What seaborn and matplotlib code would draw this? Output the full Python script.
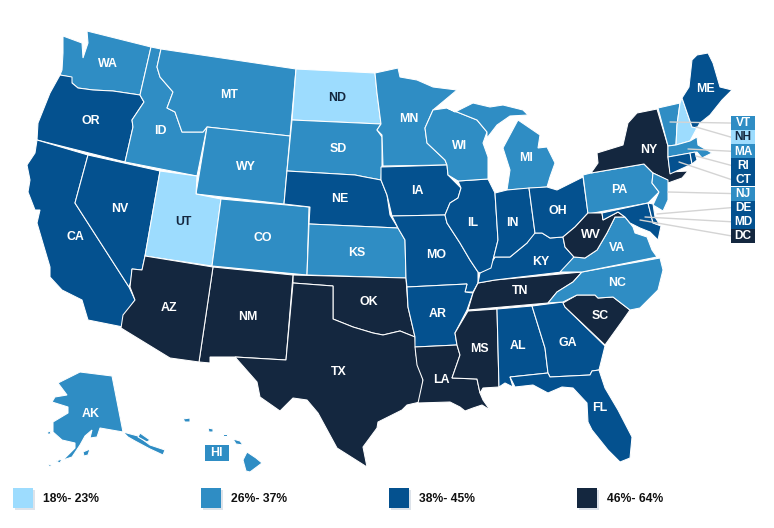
import matplotlib
matplotlib.use('Agg')
import matplotlib.pyplot as plt
from matplotlib.patches import Rectangle
import pandas as pd
import seaborn as sns

# Bins and the states in each
BIN_LABELS = ['18%- 23%', '26%- 37%', '38%- 45%', '46%- 64%']
BIN_COLORS = ['#9DDCFE', '#2F8DC4', '#04518F', '#14273F']
STATES_BIN0 = ['UT', 'ND', 'NH']
STATES_BIN1 = ['WA', 'MT', 'ID', 'WY', 'CO', 'SD', 'MN', 'WI', 'MI', 'KS', 'PA', 'VA', 'NC',
               'VT', 'MA', 'NJ', 'AK', 'HI']
STATES_BIN2 = ['OR', 'CA', 'NV', 'NE', 'IA', 'IL', 'IN', 'MO', 'AR', 'KY', 'OH', 'AL', 'GA',
               'FL', 'ME', 'RI', 'CT', 'DE', 'MD']
STATES_BIN3 = ['AZ', 'NM', 'OK', 'TX', 'LA', 'MS', 'TN', 'SC', 'WV', 'NY', 'DC']
BOXED_STATES = ['VT', 'NH', 'MA', 'RI', 'CT', 'NJ', 'DE', 'MD', 'DC']

# State outlines in pixel coordinates
OUTLINES = {
    'WA': [[(63,36),(82,43),(83,58),(88,43),(87,31),(151,47),(140,95),(113,91),(93,90),(78,88),(72,83),(70,77),(60,75),(62,70),(63,53)]],
    'OR': [[(60,75),(72,77),(72,83),(78,88),(93,90),(113,91),(140,95),(144,102),(132,120),(133,127),(125,162),(37,140),(38,123),(50,93)]],
    'CA': [[(37,140),(88,155),(75,203),(129,287),(135,300),(125,315),(123,327),(88,320),(82,300),(62,290),(50,277),(50,267),(42,240),(37,223),(40,210),(35,210),(28,192),(30,180),(27,165),(35,153)]],
    'NV': [[(88,155),(160,171),(145,256),(142,270),(132,269),(131,281),(129,287),(75,203)]],
    'ID': [[(151,47),(161,49),(157,67),(160,77),(173,92),(167,108),(175,112),(182,132),(203,132),(207,127),(197,176),(125,162),(133,127),(132,120),(144,102),(140,95)]],
    'MT': [[(161,49),(296,69),(290,136),(207,127),(203,132),(182,132),(175,112),(167,108),(173,92),(160,77),(157,67)]],
    'WY': [[(207,127),(290,136),(284,204),(196,194)]],
    'UT': [[(160,171),(197,176),(196,194),(221,199),(212,266),(145,256)]],
    'CO': [[(221,199),(309,207),(307,275),(212,266)]],
    'ND': [[(296,69),(375,73),(377,93),(381,124),(292,120)]],
    'SD': [[(292,120),(381,124),(377,130),(382,137),(382,165),(381,180),(365,177),(355,175),(287,171)]],
    'NE': [[(287,171),(355,175),(365,177),(381,180),(387,195),(390,215),(398,228),(309,224),(310,207),(284,204)]],
    'KS': [[(309,224),(398,228),(405,240),(406,278),(307,275)]],
    'OK': [[(293,275),(406,278),(408,307),(415,337),(400,331),(383,335),(373,333),(353,327),(333,319),(333,286),(293,283)]],
    'NM': [[(213,267),(293,275),(286,360),(235,357),(210,357),(210,363),(199,362)]],
    'AZ': [[(145,256),(213,267),(199,362),(170,358),(121,328),(123,315),(135,300),(130,287),(132,269),(142,270)]],
    'TX': [[(293,283),(333,286),(333,319),(353,327),(373,333),(383,335),(400,331),(415,337),(416,355),(423,380),(420,402),(407,405),(402,410),(378,422),(377,428),(363,447),(367,467),(337,448),(318,413),(307,400),(293,398),(280,411),(260,397),(257,382),(235,357),(286,360)]],
    'MN': [[(375,73),(398,68),(400,77),(417,80),(433,87),(457,90),(433,110),(425,128),(427,143),(445,160),(447,165),(383,166),(382,135),(377,130),(381,124),(377,93)]],
    'IA': [[(381,167),(447,165),(448,175),(461,188),(458,198),(450,203),(445,215),(392,216),(387,195),(381,180)]],
    'MO': [[(392,216),(445,215),(447,223),(460,243),(470,260),(478,272),(478,283),(473,292),(465,292),(467,284),(407,287),(406,278),(405,240),(398,228)]],
    'AR': [[(407,287),(467,284),(465,292),(473,293),(467,310),(455,333),(457,345),(415,347),(415,337),(408,307)]],
    'LA': [[(415,347),(457,345),(460,355),(452,378),(477,379),(480,393),(483,400),(490,410),(482,405),(473,408),(465,411),(460,407),(450,402),(418,403),(423,380),(417,365)]],
    'MS': [[(468,311),(497,309),(499,387),(483,388),(480,393),(477,379),(452,378),(460,355),(457,345),(455,333)]],
    'AL': [[(497,309),(532,306),(545,348),(548,373),(510,377),(513,387),(505,383),(499,387)]],
    'GA': [[(532,306),(563,302),(565,307),(605,346),(599,370),(592,371),(590,375),(550,377),(548,373),(545,348)]],
    'SC': [[(563,303),(577,295),(595,295),(598,298),(613,297),(630,310),(623,320),(605,345),(565,307)]],
    'FL': [[(510,377),(548,373),(550,377),(590,375),(592,371),(599,370),(605,388),(618,410),(632,437),(630,458),(620,462),(608,450),(592,430),(588,422),(587,403),(573,388),(562,387),(548,393),(533,385),(515,387)]],
    'TN': [[(478,283),(495,280),(582,272),(573,282),(557,292),(548,303),(468,310),(473,293)]],
    'NC': [[(582,272),(660,258),(663,270),(658,290),(640,308),(630,310),(613,297),(598,298),(595,295),(577,295),(563,302),(548,303),(557,292),(573,282)]],
    'KY': [[(478,283),(480,273),(490,265),(495,257),(510,257),(527,243),(533,233),(542,233),(550,238),(563,237),(565,247),(574,257),(562,272),(495,280)]],
    'IL': [[(458,181),(488,179),(495,193),(498,240),(493,260),(491,268),(480,273),(478,272),(470,260),(460,243),(447,223),(445,215),(450,203),(458,198),(461,188)]],
    'WI': [[(433,110),(447,108),(477,120),(487,132),(483,143),(488,157),(488,179),(458,181),(448,175),(447,165),(445,160),(427,143),(425,128)]],
    'MI': [[(447,108),(455,112),(473,103),(490,107),(503,105),(523,110),(528,115),(510,116),(497,125),(487,138),(487,132),(477,120)],
           [(518,120),(540,135),(538,148),(547,147),(555,163),(550,177),(547,187),(507,190),(510,170),(503,148)]],
    'IN': [[(495,193),(507,190),(529,188),(535,233),(527,243),(510,257),(495,257),(493,260),(498,240)]],
    'OH': [[(529,188),(547,187),(557,190),(583,177),(588,213),(575,227),(563,237),(550,238),(542,233),(535,233)]],
    'PA': [[(583,175),(591,173),(644,164),(653,173),(652,183),(659,192),(648,203),(588,214)]],
    'NY': [[(591,173),(598,163),(597,153),(623,145),(628,123),(637,113),(657,109),(668,146),(668,157),(670,172),(688,171),(682,178),(668,183),(667,180),(653,173),(644,164)]],
    'VT': [[(658,108),(680,103),(677,125),(676,145),(668,146)]],
    'NH': [[(680,103),(682,98),(692,127),(697,128),(690,141),(676,145),(677,125)]],
    'ME': [[(682,98),(689,87),(692,60),(697,55),(708,53),(713,63),(720,87),(732,90),(722,100),(710,115),(700,123),(697,128),(692,127)]],
    'MA': [[(668,146),(676,145),(690,141),(697,137),(698,145),(712,153),(702,158),(697,152),(668,157)]],
    'CT': [[(668,157),(690,153),(692,164),(670,174)]],
    'RI': [[(690,153),(695,152),(697,160),(692,164)]],
    'NJ': [[(653,173),(668,180),(668,200),(663,211),(653,205),(659,192),(652,183)]],
    'VA': [[(560,272),(574,257),(585,258),(597,250),(607,233),(615,217),(625,217),(633,227),(635,233),(647,237),(652,250),(657,257),(582,272)]],
    'WV': [[(565,247),(563,237),(575,227),(588,213),(602,213),(603,220),(618,212),(625,217),(615,217),(607,233),(597,250),(585,258),(574,257)]],
    'MD': [[(602,213),(648,203),(653,223),(661,226),(658,240),(650,232),(640,228),(630,223),(625,217),(618,212),(603,220)]],
    'DE': [[(648,203),(653,204),(655,217),(660,225),(653,223)]],
    'AK': [[(58,383),(80,372),(112,376),(123,432),(100,428),(97,437),(90,438),(92,430),(85,436),(80,445),(72,457),(63,460),(75,448),(75,443),(62,440),(53,432),(53,422),(68,413),(68,407),(52,402),(55,397),(67,395)],
           [(123,432),(138,436),(150,445),(165,450),(163,455),(150,449),(135,441),(128,437)],
           [(140,433),(150,440),(147,442),(138,437)],
           [(83,452),(90,449),(88,455),(84,456)],
           [(48,432),(50,431),(51,434),(47,434)],
           [(56,461),(62,459),(60,463)],
           [(48,465),(52,464),(50,467)]],
    'HI': [[(183,419),(190,418),(190,422),(185,422)],
           [(208,428),(213,429),(213,432),(209,432)],
           [(223,434),(227,434),(227,436),(223,436)],
           [(233,439),(240,441),(243,445),(236,444)],
           [(247,452),(256,458),(262,463),(250,472),(246,471),(243,460)]],
}

LABEL_POS = {
    'WA': (108,64), 'MT': (229,95), 'OR': (91,121), 'ID': (160,131), 'WY': (246,167),
    'NV': (120,209), 'UT': (183,222), 'CO': (263,238), 'CA': (75,237), 'ND': (337,98),
    'MN': (409,119), 'SD': (338,149), 'WI': (460,146), 'NE': (340,199), 'IA': (417,191),
    'IL': (473,223), 'IN': (512,223), 'KS': (357,253), 'MO': (436,255), 'OK': (369,302),
    'AR': (438,314), 'TN': (520,291), 'AZ': (169,308), 'NM': (248,317), 'TX': (339,372),
    'MS': (479,349), 'LA': (441,380), 'AL': (518,346), 'GA': (568,343), 'SC': (600,316),
    'FL': (600,408), 'NC': (617,283), 'VA': (617,248), 'WV': (591,235), 'KY': (541,262),
    'OH': (558,211), 'MI': (526,158), 'PA': (619,190), 'NY': (649,150), 'ME': (705,89),
    'AK': (91,414),
}
# Where each leader line starts inside its state
LEADER_START = {
    'VT': (670,122), 'NH': (696,127), 'MA': (688,149), 'RI': (696,156), 'CT': (679,162),
    'NJ': (668,192), 'DE': (657,214), 'MD': (645,217), 'DC': (640,220),
}

sns.set_theme(style='white')
plt.rcParams['font.family'] = ['Liberation Sans', 'DejaVu Sans']

state_color = {}
for i, group in enumerate([STATES_BIN0, STATES_BIN1, STATES_BIN2, STATES_BIN3]):
    for st in group:
        state_color[st] = BIN_COLORS[i]


def text_color(st):
    return BIN_COLORS[3] if st in STATES_BIN0 else 'white'


fig = plt.figure(figsize=(7.74, 5.28), dpi=100)
ax = fig.add_axes([0, 0, 1, 1])

for st, parts in OUTLINES.items():
    for part in parts:
        xs, ys = zip(*part)
        ax.fill(xs, ys, facecolor=state_color[st], edgecolor='white', linewidth=0.75, zorder=2)

for st, (x, y) in LABEL_POS.items():
    ax.text(x, y, st, color=text_color(st), fontsize=8.9, fontweight='bold',
            ha='center', va='center', zorder=5)

# Small states listed in the column on the right
box_top, box_h = 116, 14.1
for i, st in enumerate(BOXED_STATES):
    y = box_top + i * box_h
    x0, y0 = LEADER_START[st]
    ax.plot([x0, 731], [y0, y + box_h / 2], color='#d4d4d4', linewidth=1.0, zorder=4)
    ax.add_patch(Rectangle((731, y), 24, box_h, facecolor=state_color[st], edgecolor='none', zorder=5))
    ax.text(743, y + box_h / 2 + 0.3, st, color=text_color(st), fontsize=8.6, fontweight='bold',
            ha='center', va='center', zorder=6)

ax.add_patch(Rectangle((205, 445), 24, 16, facecolor=state_color['HI'], edgecolor='none', zorder=5))
ax.text(216, 453, 'HI', color='white', fontsize=8.9, fontweight='bold', ha='center', va='center', zorder=6)

# Legend swatches with their pale drop shadow
legend_df = pd.DataFrame({'x': [23, 211, 399, 587], 'y': [498] * 4, 'label': BIN_LABELS})
sns.scatterplot(data=legend_df, x=legend_df['x'] + 2, y=legend_df['y'] + 2, marker='s', s=210,
                color='#dde3ea', linewidth=0, legend=False, ax=ax, zorder=2)
sns.scatterplot(data=legend_df, x='x', y='y', hue='label', palette=BIN_COLORS, marker='s', s=210,
                linewidth=0, legend=False, ax=ax, zorder=3)
for x, label in zip(legend_df['x'], BIN_LABELS):
    ax.text(x + 20, 498.5, label, color='#111111', fontsize=8.7, fontweight='bold', ha='left', va='center')

ax.set_xlim(0, 774)
ax.set_ylim(528, 0)
ax.axis('off')
fig.savefig('out.png', dpi=100)
